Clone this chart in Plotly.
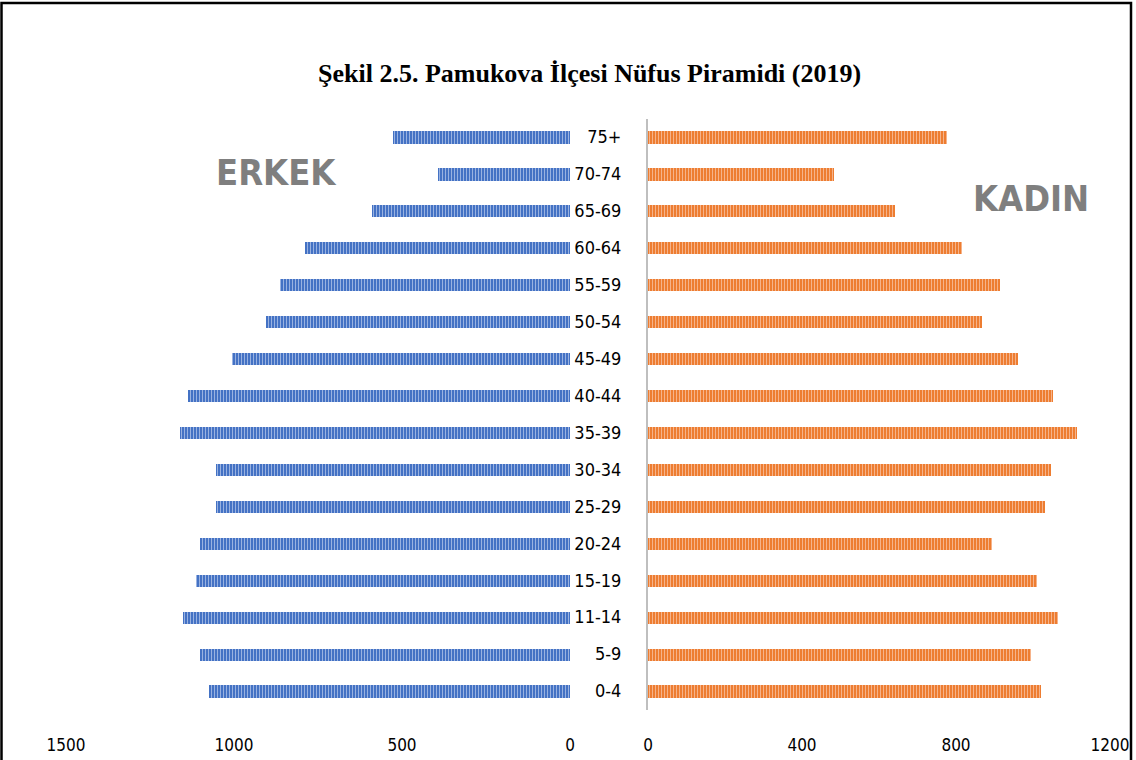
import plotly.graph_objects as go

age_groups = ["0-4", "5-9", "11-14", "15-19", "20-24", "25-29", "30-34", "35-39",
              "40-44", "45-49", "50-54", "55-59", "60-64", "65-69", "70-74", "75+"]
erkek = [1074, 1101, 1152, 1113, 1101, 1054, 1054, 1161, 1137, 1006, 905, 863, 789, 589, 393, 527]
kadin = [1021, 995, 1065, 1010, 893, 1031, 1047, 1115, 1052, 961, 867, 914, 815, 641, 482, 776]

left_ticks = [1500, 1000, 500, 0]
right_ticks = [0, 400, 800, 1200]

title_text = "Şekil 2.5. Pamukova İlçesi Nüfus Piramidi (2019)"

W, H = 1136, 760
narrow = "Liberation Sans Narrow, DejaVu Sans Condensed, sans-serif"

fig = go.Figure()
fig.add_trace(go.Bar(
    y=age_groups, x=erkek, orientation="h", xaxis="x", yaxis="y", width=0.33,
    marker=dict(color="#4472C4", line=dict(width=0),
                pattern=dict(shape="|", bgcolor="#4472C4", fgcolor="#a3b9e4",
                             size=3, solidity=0.3, fillmode="replace")),
    showlegend=False, name="Erkek"))
fig.add_trace(go.Bar(
    y=age_groups, x=kadin, orientation="h", xaxis="x2", yaxis="y2", width=0.33,
    marker=dict(color="#ED7D31", line=dict(width=0),
                pattern=dict(shape="|", bgcolor="#ED7D31", fgcolor="#f7b994",
                             size=3, solidity=0.3, fillmode="replace")),
    showlegend=False, name="Kadın"))

ydom = [(H - 709.5) / H, (H - 118.5) / H]

fig.update_layout(
    width=W, height=H,
    margin=dict(l=0, r=0, t=0, b=0, autoexpand=False),
    paper_bgcolor="white", plot_bgcolor="white",
    bargap=0,
    xaxis=dict(domain=[66 / W, 570 / W], range=[1500, 0], tickvals=left_ticks,
               showgrid=False, zeroline=False, showline=False, ticks="",
               ticklabelstandoff=23, automargin=False,
               tickfont=dict(family=narrow, size=17, color="black"), anchor="y"),
    xaxis2=dict(domain=[648 / W, 1110 / W], range=[0, 1200], tickvals=right_ticks,
                showgrid=False, zeroline=False, showline=False, ticks="",
                ticklabelstandoff=23, automargin=False,
                tickfont=dict(family=narrow, size=17, color="black"), anchor="y2"),
    yaxis=dict(domain=ydom, type="category", categoryorder="array", categoryarray=age_groups,
               range=[-0.5, 15.5], showticklabels=False, showgrid=False, showline=False,
               zeroline=False, anchor="x", automargin=False),
    yaxis2=dict(domain=ydom, type="category", categoryorder="array", categoryarray=age_groups,
                range=[-0.5, 15.5], showticklabels=True, showgrid=False, showline=True,
                linecolor="#bfbfbf", linewidth=2, zeroline=False, anchor="x2", side="left",
                ticks="", ticklabelstandoff=21, automargin=False,
                tickfont=dict(family=narrow, size=18, color="black")),
    annotations=[
        dict(text="<b>" + title_text + "</b>", x=589 / W, y=(H - 73) / H, xref="paper", yref="paper",
             showarrow=False, font=dict(family="Liberation Serif, Times New Roman, serif", size=26,
                                        color="black"), xanchor="center", yanchor="middle"),
        dict(text="ERKEK", x=276 / W, y=(H - 172) / H, xref="paper", yref="paper",
             showarrow=False, font=dict(family=narrow, size=36, color="#7f7f7f", weight="bold"),
             xanchor="center", yanchor="middle"),
        dict(text="KADIN", x=1031 / W, y=(H - 198) / H, xref="paper", yref="paper",
             showarrow=False, font=dict(family=narrow, size=36, color="#7f7f7f", weight="bold"),
             xanchor="center", yanchor="middle"),
    ],
    shapes=[
        dict(type="rect", xref="paper", yref="paper", x0=1.5 / W, x1=1131 / W,
             y0=-0.02, y1=(H - 3) / H, line=dict(color="black", width=2.5), fillcolor="rgba(0,0,0,0)"),
    ],
)

fig.write_html("out.html", config={"displayModeBar": False},
               post_script="document.body.style.margin='0';")
